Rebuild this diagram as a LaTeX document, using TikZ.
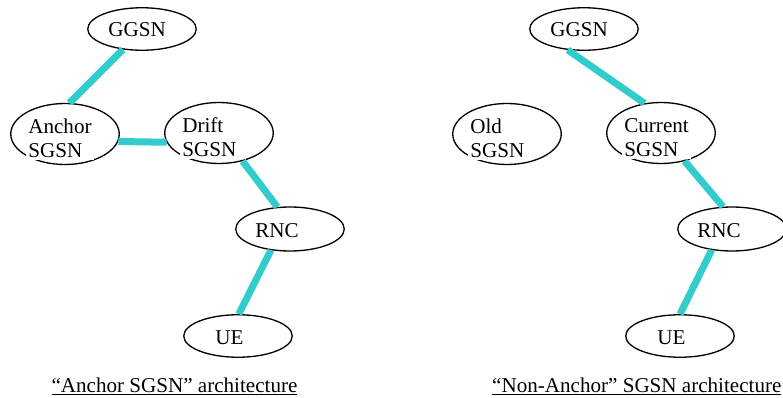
\documentclass[tikz,border=0pt]{standalone}
\usepackage{fontspec}
\setmainfont{Liberation Serif}
\usepackage{xcolor}
\definecolor{linkcyan}{HTML}{33CCCC}
\usetikzlibrary{shapes.geometric}

\begin{document}
\begin{tikzpicture}[x=1cm,y=1cm]
  \tikzset{
    elem/.style={ellipse,draw=black,line width=0.75pt,inner sep=0pt,
      minimum width=2.17cm,minimum height=0.85cm},
    tall/.style={elem,minimum height=1.22cm},
    elemtext/.style={font=\fontsize{12}{14.2}\selectfont,align=left,
      anchor=base west,fill=white,inner sep=0.04cm},
    link/.style={linkcyan,line width=0.14cm},
    caption/.style={font=\fontsize{12}{14.2}\selectfont},
  }
  \useasboundingbox (0,0) rectangle (15.66,7.96);

  % Left: anchor SGSN.
  \node[elem] (ggsnA) at (2.84,7.38) {};
  \node[tall] (anchorA) at (1.30,5.28) {};
  \node[tall] (driftA) at (4.38,5.30) {};
  \node[elem,minimum height=0.88cm] (rncA) at (5.80,3.38) {};
  \node[elem] (ueA) at (4.76,1.24) {};

  % base west sits on the last line
  \node[elemtext] (ggsnA-t) at (2.12,7.22) {GGSN};
  \node[elemtext] (anchorA-t) at (0.52,4.80) {Anchor\\SGSN};
  \node[elemtext] (driftA-t) at (3.60,4.82) {Drift\\SGSN};
  \node[elemtext] (rncA-t) at (5.06,3.20) {RNC};
  \node[elemtext] (ueA-t) at (4.26,1.06) {UE};

  \draw[link] (ggsnA.227) -- (anchorA.82);
  \draw[link] (anchorA.-8) -- (driftA.190);
  \draw[link] (driftA.-50) -- (rncA.120);
  \draw[link] (rncA.228) -- (ueA.88);

  \node[caption,anchor=base] (capA) at (3.49,0.12)
    {\underline{“Anchor SGSN” architecture}};

  % Right: no anchor, old SGSN left out.
  \node[elem] (ggsnB) at (11.68,7.38) {};
  \node[tall] (oldB) at (10.14,5.28) {};
  \node[tall] (currentB) at (13.22,5.30) {};
  \node[elem,minimum height=0.88cm] (rncB) at (14.64,3.38) {};
  \node[elem] (ueB) at (13.60,1.24) {};

  \node[elemtext] (ggsnB-t) at (10.96,7.22) {GGSN};
  \node[elemtext] (oldB-t) at (9.36,4.80) {Old\\SGSN};
  \node[elemtext] (currentB-t) at (12.44,4.82) {Current\\SGSN};
  \node[elemtext] (rncB-t) at (13.90,3.20) {RNC};
  \node[elemtext] (ueB-t) at (13.10,1.06) {UE};

  \draw[link] (ggsnB.232) -- (currentB.119);
  \draw[link] (currentB.-50) -- (rncB.112);
  \draw[link] (rncB.226) -- (ueB.90);

  \node[caption,anchor=base west] (capB) at (9.72,0.12)
    {\underline{“Non-Anchor” SGSN architecture}};
\end{tikzpicture}
\end{document}
